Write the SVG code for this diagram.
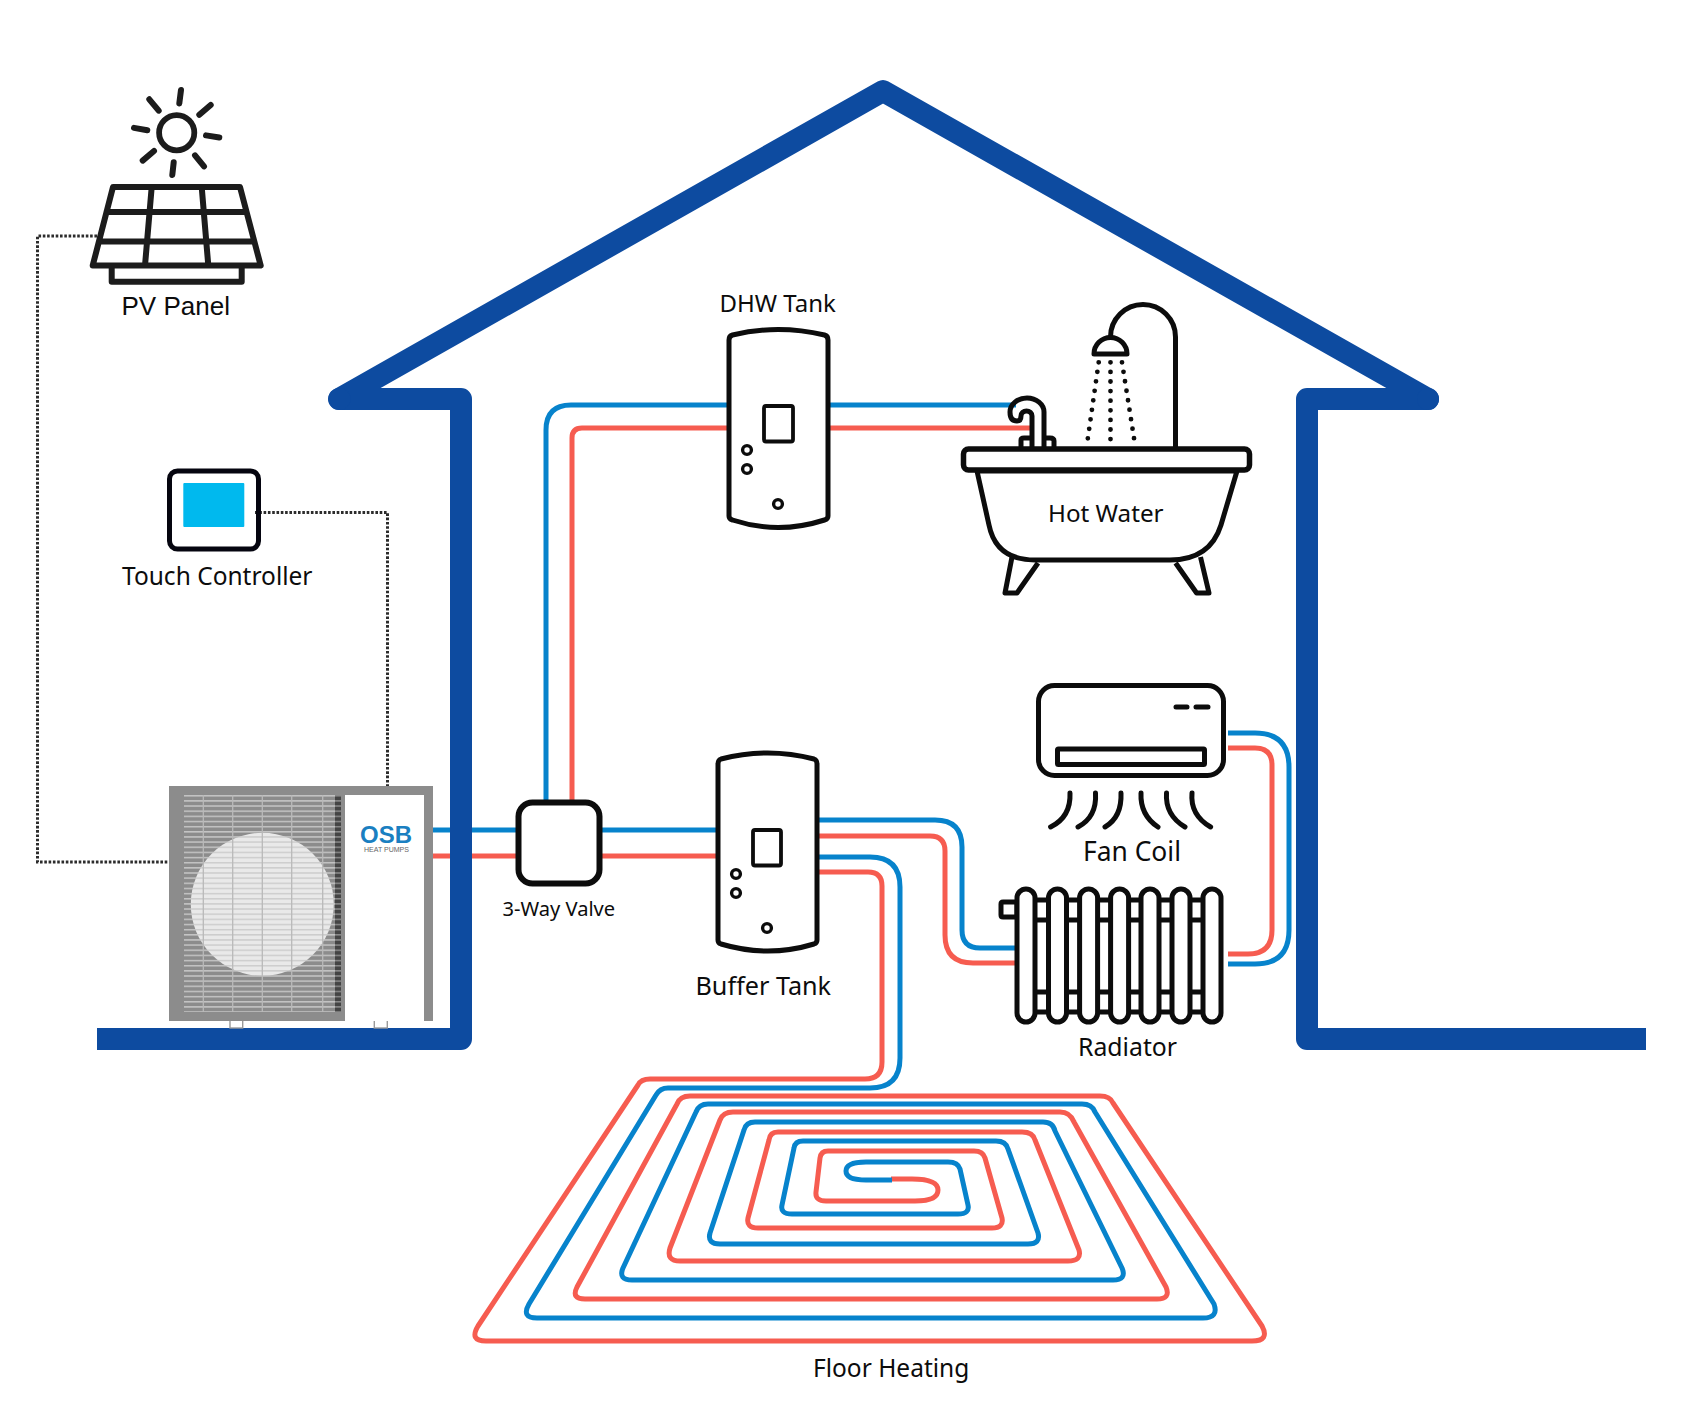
<svg xmlns="http://www.w3.org/2000/svg" width="1683" height="1414" viewBox="0 0 1683 1414">
<style>
.ln{fill:none;stroke:#0c0c0c;stroke-width:5;stroke-linecap:round;stroke-linejoin:round}
.wh{fill:#fff;stroke:#0c0c0c;stroke-width:5;stroke-linejoin:round}
.pv{fill:none;stroke:#1c1c1c;stroke-width:6;stroke-linecap:round;stroke-linejoin:round}
.hot{fill:none;stroke:#f65c50;stroke-width:5;stroke-linejoin:round}
.cold{fill:none;stroke:#0783cc;stroke-width:5;stroke-linejoin:round}
.sig{fill:none;stroke:#2c2c2c;stroke-width:3;stroke-dasharray:2.6 1.7}
.t{font-family:"Noto Sans","Open Sans",sans-serif;font-size:24px;fill:#0c0c0c}
.drop{fill:none;stroke:#0c0c0c;stroke-width:4.8;stroke-linecap:round;stroke-dasharray:0 9.6}
</style>
<defs>
<pattern id="grilleBars" width="5.15" height="5.15" patternUnits="userSpaceOnUse" y="795">
<rect width="5.15" height="5.15" fill="#8c8c8c"/>
<rect width="5.15" height="1.5" fill="#c4c4c4"/>
</pattern>
<pattern id="fanBars" width="5.15" height="5.15" patternUnits="userSpaceOnUse" y="795">
<rect width="5.15" height="5.15" fill="#e9e9e9"/>
<rect width="5.15" height="1.5" fill="#cdcdcd"/>
</pattern>
<pattern id="coilEdge" width="5.15" height="5.15" patternUnits="userSpaceOnUse" y="795">
<rect width="5.15" height="5.15" fill="#444"/>
<rect width="5.15" height="1.5" fill="#8a8a8a"/>
</pattern>
</defs>
<rect width="1683" height="1414" fill="#fff"/>

<g id="connectors">
<!-- signal wiring -->
<path class="sig" d="M97 236H37.5V862H169"/>
<path class="sig" d="M255 512.5H387.5V786"/>
<!-- primary loop through the valve -->
<path class="cold" d="M433 830H516M602 830H716"/>
<path class="hot" d="M433 856H516M602 856H716"/>
<!-- domestic hot water branch -->
<path class="cold" d="M546 802V430Q546 405 571 405H728M829 405H1016"/>
<path class="hot" d="M572 802V438Q572 428 582 428H728M829 428H1030"/>
<!-- radiator and fan coil circuit -->
<path class="cold" d="M819 820H935Q962 820 962 847V930Q962 948 980 948H1015"/>
<path class="hot" d="M819 836H930Q945 836 945 851V935Q945 963 973 963H1015"/>
<path class="cold" d="M1228 733H1255Q1289 733 1289 767V930Q1289 964 1255 964H1228"/>
<path class="hot" d="M1228 748H1255Q1272 748 1272 765V930Q1272 954 1248 954H1228"/>
<!-- floor heating spiral -->
<path class="hot" d="M819 872H868Q882 872 882 886V1062Q882 1079 865 1079H650Q641 1079 638 1085L478 1326Q469 1341 486 1341H1252Q1270 1341 1262 1326L1113 1103Q1110 1096 1100 1096H690Q680 1096 677 1104L577 1287Q571 1299 585 1299H1157Q1171 1299 1166 1287L1074 1122Q1070 1112 1060 1112H733Q723 1112 720 1120L670 1248Q666 1261 680 1261H1068Q1082 1261 1079 1250L1035 1140Q1033 1132 1022 1132H778Q770 1132 769 1140L748 1218Q746 1228 758 1228H992Q1004 1228 1002 1218L985 1158Q983 1151 974 1151H828Q821 1151 820 1158L816 1192Q815 1201 826 1201H915Q938 1201 938 1190Q938 1179 912 1179H891"/>
<path class="cold" d="M819 857H870Q900 857 900 887V1058Q900 1088 870 1088H668Q660 1088 656 1095L529 1304Q521 1318 537 1318H1203Q1219 1318 1214 1304L1095 1112Q1092 1104 1082 1104H708Q699 1104 696 1112L623 1268Q618 1280 632 1280H1113Q1127 1280 1122 1268L1055 1131Q1053 1122 1043 1122H755Q746 1122 744 1130L710 1233Q707 1244 720 1244H1028Q1041 1244 1038 1233L1008 1149Q1006 1141 996 1141H803Q795 1141 794 1148L782 1205Q780 1214 792 1214H958Q970 1214 968 1205L960 1169Q958 1162 948 1162H866Q846 1162 846 1171Q846 1180 866 1180H892"/>
</g>

<g id="house">
<path d="M97 1039H461V399H339L883 91L1428 399H1307V1039H1646" fill="none" stroke="#0d4ba0" stroke-width="22" stroke-linejoin="round" stroke-linecap="butt"/>
<circle cx="339.5" cy="399" r="11" fill="#0d4ba0"/>
<circle cx="1428" cy="399" r="11" fill="#0d4ba0"/>
</g>

<g id="pv-panel">
<circle cx="176.7" cy="132.7" r="17.6" fill="none" stroke="#1c1c1c" stroke-width="5.8"/>
<path class="pv" d="M181 90L179.3 103.4M210.7 105L199.3 114.8M219.3 137.5L206 135.4M204 166.4L195 155.4M172.3 175L173.7 162.3M142.7 160.6L154 151M134 127.9L147.3 130.3M149.3 99.3L158.7 110.6"/>
<path class="pv" d="M113 187H240L260.7 265.6H92.7ZM106.5 212H246.4M99 241.5H254M151.7 187L145 265.6M201.7 187L208.3 265.6M111.7 265.6V281.8H241.7V265.6"/>
<text x="121.5" y="315" style="font-family:'Liberation Sans',Arial,sans-serif;font-size:26px;fill:#0c0c0c">PV Panel</text>
</g>

<g id="touch-controller">
<rect x="169.5" y="471" width="89" height="78" rx="8" fill="none" stroke="#05050f" stroke-width="5"/>
<rect x="183.3" y="483" width="61" height="44" rx="1" fill="#00b9ee"/>
<text class="t" x="122" y="584.5" style="font-size:24.5px">Touch Controller</text>
</g>

<g id="heat-pump">
<rect x="230" y="1020" width="12.7" height="8" fill="#fff" stroke="#9a9a9a" stroke-width="1.4"/>
<rect x="374.3" y="1020" width="13" height="8" fill="#fff" stroke="#9a9a9a" stroke-width="1.4"/>
<rect x="169" y="786" width="264" height="235" fill="#8c8c8c"/>
<rect x="345" y="795" width="79" height="226" fill="#fff"/>
<rect x="184" y="795" width="151" height="217" fill="url(#grilleBars)"/>
<rect x="335" y="795" width="6" height="217" fill="url(#coilEdge)"/>
<circle cx="262.3" cy="904.3" r="71.5" fill="url(#fanBars)"/>
<path d="M203.3 795V1012M232.7 795V1012M262.3 795V1012M291.7 795V1012M322.7 795V1012" stroke="#b9b9b9" stroke-width="1.3" fill="none"/>
<text x="360" y="843" textLength="52" lengthAdjust="spacingAndGlyphs" style="font-family:'Liberation Sans',Arial,sans-serif;font-weight:700;font-size:23px;fill:#1a7fc1">OSB</text>
<text x="364" y="852" textLength="45" lengthAdjust="spacingAndGlyphs" style="font-family:'Liberation Sans',Arial,sans-serif;font-size:6.5px;fill:#666">HEAT PUMPS</text>
</g>

<g id="three-way-valve">
<rect x="518.5" y="802.5" width="81" height="81" rx="14" fill="#fff" stroke="#0c0c0c" stroke-width="6"/>
<text class="t" x="502.5" y="915.5" style="font-size:20.1px">3-Way Valve</text>
</g>

<g id="dhw-tank">
<path class="wh" d="M729 340Q729 336 732.5 335Q778 324 824.5 335Q828 336 828 340V516Q828 519 824.5 520Q778 535 732.5 520Q729 519 729 516Z"/>
<rect class="ln" x="764" y="406" width="29" height="35.5" rx="2" style="stroke-width:3.8"/>
<g class="ln" style="stroke-width:3.4"><circle cx="747" cy="450" r="4.4"/><circle cx="747" cy="469" r="4.4"/><circle cx="778" cy="504" r="4.4"/></g>
<text class="t" x="719.5" y="312">DHW Tank</text>
</g>

<g id="bath">
<path class="ln" d="M1175.5 447V337A32.5 32.5 0 0 0 1110.5 337V340"/>
<path class="wh" d="M1094 354A16.5 16.5 0 0 1 1127 354Z"/>
<path class="drop" d="M1098.7 362.3L1087.6 440M1110.5 362.3V440M1122 362.3L1134.3 440"/>
<path class="ln" d="M1044 447V412A17 14 0 0 0 1010 412Q1010 421 1017 421Q1021 421 1021 416A5.5 5 0 0 1 1032 416V447M1021 447V440Q1021 438 1024 438H1030M1044 438H1050Q1054 438 1054 441V447"/>
<path class="wh" d="M1012 557L1005 593H1017L1038 563M1175.6 563L1196.6 593H1209L1200.5 557"/>
<path class="wh" d="M977 471L989 525Q996 560 1035 560H1170Q1210 560 1221 525L1237 471Z"/>
<rect x="963.5" y="449" width="286" height="21" rx="5" fill="#fff" stroke="#0c0c0c" stroke-width="5.5"/>
<text class="t" x="1048" y="521.5" style="font-size:24.2px">Hot Water</text>
</g>

<g id="fan-coil">
<rect class="wh" x="1038.5" y="685.5" width="185" height="90" rx="16"/>
<rect class="ln" x="1057.5" y="749" width="147" height="15.5" rx="1" style="stroke-width:5"/>
<path class="ln" d="M1176 707H1187M1196 707H1208"/>
<path class="ln" d="M1070 793Q1071 817 1050.6 827M1095.5 793Q1097 817 1078 827M1121 793Q1122 817 1105 827M1141 793Q1140 815 1158 827M1166.5 793Q1165 815 1185 827M1192 793Q1190 815 1210.6 827"/>
<text class="t" x="1083" y="860.5" style="font-size:26.4px">Fan Coil</text>
</g>

<g id="radiator">
<path class="wh" d="M1017 902H1003Q1001 902 1001 904V915Q1001 917 1003 917H1017Z"/>
<path class="ln" d="M1026 900H1212M1026 920H1212M1026 992H1212M1026 1012H1212"/>
<g class="wh">
<rect x="1017" y="889" width="18" height="133" rx="9"/>
<rect x="1048.5" y="889" width="18" height="133" rx="9"/>
<rect x="1079.6" y="889" width="18" height="133" rx="9"/>
<rect x="1110.6" y="889" width="18" height="133" rx="9"/>
<rect x="1141" y="889" width="18" height="133" rx="9"/>
<rect x="1172" y="889" width="18" height="133" rx="9"/>
<rect x="1203" y="889" width="18" height="133" rx="9"/>
</g>
<text class="t" x="1078" y="1055.5" style="font-size:24.8px">Radiator</text>
</g>

<g id="buffer-tank">
<path class="wh" d="M718 764Q718 760 721 759Q768 747 814 759Q817 760 817 764V940Q817 943 814 944Q768 958 721 944Q718 943 718 940Z"/>
<rect class="ln" x="753" y="830" width="28" height="35.5" rx="2" style="stroke-width:3.8"/>
<g class="ln" style="stroke-width:3.4"><circle cx="736" cy="874" r="4.4"/><circle cx="736" cy="893" r="4.4"/><circle cx="767" cy="928" r="4.4"/></g>
<text class="t" x="695.5" y="994.5" style="font-size:25.2px">Buffer Tank</text>
</g>

<g id="floor-heating">
<text class="t" x="813" y="1376.5" style="font-size:24.5px">Floor Heating</text>
</g>
</svg>
